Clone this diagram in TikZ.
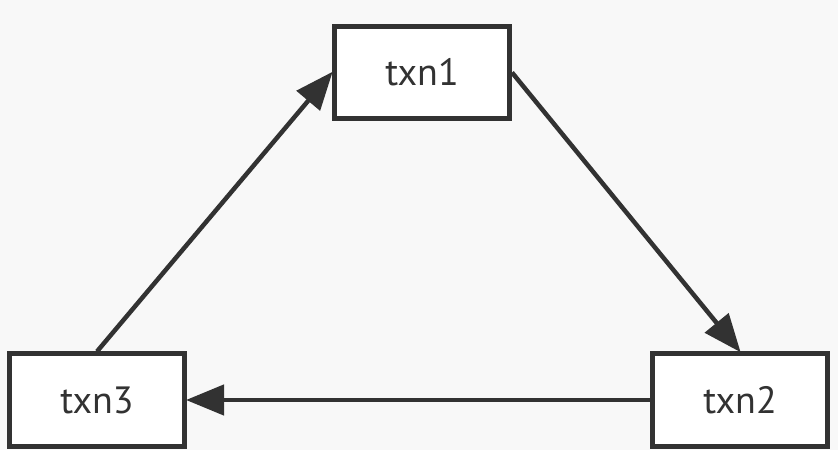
\documentclass[tikz,border=0pt]{standalone}
\usepackage{fontspec}
\setmainfont{PT Sans}
\usetikzlibrary{arrows.meta}
\definecolor{bg}{HTML}{F8F8F8}
\definecolor{ink}{HTML}{323232}
\begin{document}
\begin{tikzpicture}[x=1pt,y=1pt,
  txbox/.style={draw=ink, line width=5pt, fill=white, minimum width=175pt, minimum height=92pt, inner sep=0pt, text=ink, font=\fontsize{38}{40}\selectfont},
  link/.style={draw=ink, line width=4.5pt, -{Triangle[length=38pt,width=30pt]}, shorten >=-1pt}]
\fill[bg] (0,0) rectangle (838,450);
\useasboundingbox (0,0) rectangle (838,450);
\node[txbox] (t1) at (422,377.5) {txn1};
\node[txbox] (t2) at (740,50) {txn2};
\node[txbox] (t3) at (97,50) {txn3};
\draw[link] (t1.east) -- (t2.north);
\draw[link] (t2.west) -- (t3.east);
\draw[link] (t3.north) -- (t1.west);
\end{tikzpicture}
\end{document}
